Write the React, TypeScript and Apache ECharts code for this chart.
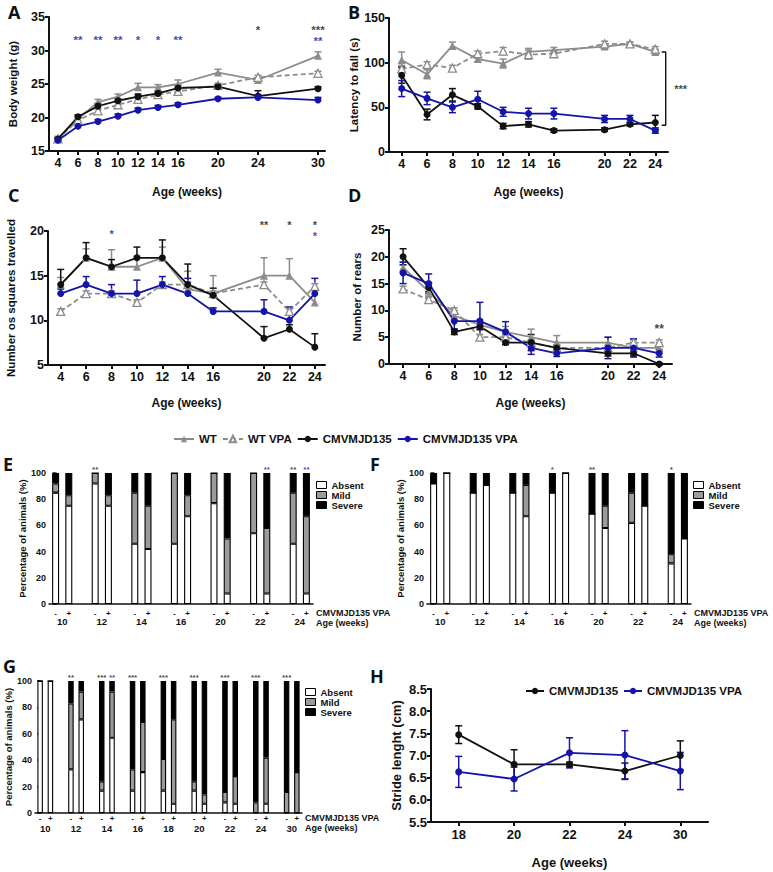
import React, { useEffect, useRef } from 'react';
import * as echarts from 'echarts';

const FONT = '"Liberation Sans", Arial, Helvetica, sans-serif';
const BLUE = '#1414a8';
const GRAY = '#8c8c8c';
const BLACK = '#111111';
const MILD = '#9b9b9b';

// ---------- Panel A : body weight ----------
const weeksA = [4, 6, 8, 10, 12, 14, 16, 20, 24, 30];
const wtA = [16.9, 19.8, 22.3, 23.1, 24.5, 24.5, 25.0, 26.7, 25.6, 29.2];
const wtVpaA = [16.8, 19.6, 21.0, 21.9, 22.7, 23.4, 23.9, 24.8, 26.0, 26.6];
const mjdA = [16.8, 20.1, 21.7, 22.5, 23.1, 23.6, 24.4, 24.6, 23.2, 24.3];
const mjdVpaA = [16.6, 18.7, 19.4, 20.2, 21.1, 21.5, 21.9, 22.8, 23.0, 22.6];
const wtErrA = [0.3, 0.4, 0.4, 0.4, 0.6, 0.4, 0.6, 0.5, 0.3, 0.6];
const wtVpaErrA = [0.2, 0.3, 0.3, 0.3, 0.3, 0.3, 0.3, 0.3, 0.3, 0.3];
const mjdErrA = [0.2, 0.3, 0.4, 0.3, 0.4, 0.3, 0.4, 0.3, 0.8, 0.3];
const mjdVpaErrA = [0.2, 0.2, 0.3, 0.3, 0.3, 0.3, 0.3, 0.2, 0.3, 0.4];
const starsA = [
  { x: 6, y: 31.5, t: '**', c: 'b' }, { x: 8, y: 31.5, t: '**', c: 'b' },
  { x: 10, y: 31.5, t: '**', c: 'b' }, { x: 12, y: 31.5, t: '*', c: 'b' },
  { x: 14, y: 31.5, t: '*', c: 'b' }, { x: 16, y: 31.5, t: '**', c: 'b' },
  { x: 24, y: 33.0, t: '*', c: 'k' }, { x: 30, y: 33.0, t: '***', c: 'k' },
  { x: 30, y: 31.4, t: '**', c: 'b' },
];

// ---------- Panel B : rotarod ----------
const weeksB = [4, 6, 8, 10, 12, 14, 16, 20, 22, 24];
const wtB = [103, 87, 119, 104, 99, 112, 114, 118, 121, 112];
const wtVpaB = [93, 98, 94, 110, 113, 109, 110, 121, 121, 115];
const mjdB = [86, 42, 64, 51, 29, 31, 24, 25, 31, 33];
const mjdVpaB = [71, 60, 50, 59, 45, 43, 43, 37, 37, 24];
const wtErrB = [9, 5, 4, 3, 5, 4, 3, 2, 2, 3];
const wtVpaErrB = [4, 3, 3, 3, 4, 5, 3, 3, 2, 3];
const mjdErrB = [9, 6, 7, 3, 3, 3, 2, 2, 2, 8];
const mjdVpaErrB = [9, 7, 6, 9, 5, 6, 6, 4, 4, 3];
const bracketB = [[24.5, 112], [24.82, 112], [24.82, 30], [24.5, 30]];
const starsB = [{ x: 26.0, y: 70, t: '***', c: 'k' }];

// ---------- Panel C : open field squares ----------
const weeksC = [4, 6, 8, 10, 12, 14, 16, 20, 22, 24];
const wtC = [14, 17, 16, 16, 17, 13.5, 13, 15, 15, 12];
const wtVpaC = [11, 13, 13, 12, 14, 14, 13, 14, 11, 13.8];
const mjdC = [14, 17, 16, 17, 17, 14, 12.8, 8, 9, 7];
const mjdVpaC = [13, 14, 13, 13, 14, 13, 11, 11, 10, 13];
const wtErrC = [0.8, 1.0, 1.9, 1.2, 1.2, 2.0, 2.0, 2.0, 1.9, 1.5];
const wtVpaErrC = [0.3, 0.3, 0.3, 0.3, 0.3, 0.3, 0.3, 0.3, 0.4, 0.3];
const mjdErrC = [1.7, 1.7, 0.8, 1.2, 2.0, 2.3, 0.8, 1.3, 0.5, 1.5];
const mjdVpaErrC = [0.5, 0.9, 1.0, 1.5, 0.9, 1.7, 0.4, 1.3, 1.5, 1.7];
const starsC = [
  { x: 8, y: 19.66, t: '*', c: 'b' }, { x: 20, y: 20.7, t: '**', c: 'k' },
  { x: 22, y: 20.7, t: '*', c: 'k' }, { x: 24, y: 20.7, t: '*', c: 'k' },
  { x: 24, y: 19.45, t: '*', c: 'b' },
];

// ---------- Panel D : rears ----------
const weeksD = [4, 6, 8, 10, 12, 14, 16, 20, 22, 24];
const wtD = [18, 13.5, 9, 7.3, 6, 5, 4, 4, 3, 3];
const wtVpaD = [14, 12, 10, 5, 5, 4, 3, 3, 4, 4];
const mjdD = [20, 14.3, 6, 7, 4, 4, 3, 2, 2, 0];
const mjdVpaD = [17, 15, 8, 8, 6, 3, 2, 3, 3, 2];
const wtErrD = [1, 1, 1, 1, 1, 1.5, 1.3, 1, 1, 1];
const wtVpaErrD = [0.5, 0.5, 0.5, 0.5, 0.5, 0.5, 0.5, 0.5, 0.5, 0.5];
const mjdErrD = [1.5, 0.8, 0.5, 0.5, 0.4, 1.5, 0.5, 0.5, 0.5, 0.2];
const mjdVpaErrD = [2, 1.8, 1.5, 3.5, 1.9, 1.2, 0.6, 2, 1.7, 0.7];
const starsD = [{ x: 24, y: 6.5, t: '**', c: 'k' }];

// ---------- Panels E, F, G : stacked percentages (order: age-, age+) ----------
const agesE = ['10', '12', '14', '16', '20', '22', '24'];
const absentE = [85, 75, 92, 75, 46, 42, 46, 67, 77, 8, 54, 8, 46, 8];
const mildE = [7, 8, 8, 8, 39, 33, 54, 16, 23, 42, 46, 50, 39, 59];
const severeE = [8, 17, 0, 17, 15, 25, 0, 17, 0, 50, 0, 42, 15, 33];
const starsE = [
  { i: 2, t: '**', c: 'k' }, { i: 11, t: '**', c: 'b' },
  { i: 12, t: '**', c: 'k' }, { i: 13, t: '**', c: 'b' },
];

const agesF = ['10', '12', '14', '16', '20', '22', '24'];
const absentF = [92, 100, 85, 91, 85, 67, 85, 100, 69, 58, 62, 75, 31, 50];
const mildF = [0, 0, 0, 0, 0, 24, 0, 0, 0, 17, 23, 0, 7, 0];
const severeF = [8, 0, 15, 9, 15, 9, 15, 0, 31, 25, 15, 25, 62, 50];
const starsF = [{ i: 6, t: '*', c: 'b' }, { i: 8, t: '**', c: 'k' }, { i: 12, t: '*', c: 'k' }];

const agesG = ['10', '12', '14', '16', '18', '20', '22', '24', '30'];
const absentG = [100, 100, 33, 71, 17, 57, 17, 31, 17, 7, 17, 7, 8, 7, 0, 7, 0, 0];
const mildG = [0, 0, 50, 21, 7, 35, 16, 38, 24, 64, 7, 7, 8, 21, 8, 35, 16, 31];
const severeG = [0, 0, 17, 8, 76, 8, 67, 31, 59, 29, 76, 86, 84, 72, 92, 58, 84, 69];
const starsG = [
  { i: 2, t: '**', c: 'k' }, { i: 4, t: '***', c: 'k' }, { i: 5, t: '**', c: 'b' },
  { i: 6, t: '***', c: 'k' }, { i: 8, t: '***', c: 'k' }, { i: 10, t: '***', c: 'k' },
  { i: 12, t: '***', c: 'k' }, { i: 14, t: '***', c: 'k' }, { i: 16, t: '***', c: 'k' },
];
const signs = ['-', '+'];
const barAxisTitle = 'CMVMJD135 VPA\nAge (weeks)';

// ---------- Panel H : stride length ----------
const weeksH = ['18', '20', '22', '24', '30'];
const mjdH = [7.47, 6.8, 6.8, 6.65, 7.0];
const mjdErrH = [0.2, 0.33, 0.05, 0.18, 0.33];
const mjdVpaH = [6.63, 6.47, 7.06, 7.01, 6.65];
const mjdVpaErrH = [0.35, 0.27, 0.34, 0.55, 0.42];

const legendNames = ['WT', 'WT VPA', 'CMVMJD135', 'CMVMJD135 VPA'];
const severityNames = ['Absent', 'Mild', 'Severe'];

// ---------- helpers ----------
const STYLE: Record<string, any> = {
  'WT': { color: GRAY, fill: GRAY, symbol: 'triangle', dashed: false },
  'WT VPA': { color: GRAY, fill: '#ffffff', symbol: 'triangle', dashed: true },
  'CMVMJD135': { color: BLACK, fill: BLACK, symbol: 'circle', dashed: false },
  'CMVMJD135 VPA': { color: BLUE, fill: BLUE, symbol: 'circle', dashed: false },
};

const txt = (size: number, extra: any = {}) => ({
  color: BLACK, fontFamily: FONT, fontWeight: 'bold', fontSize: size, ...extra,
});

const errRender = (color: string, mode: string) => (params: any, api: any) => {
  const x = api.value(0);
  const y = api.value(1);
  const e = api.value(2);
  const p0 = api.coord([x, y]);
  const pt = api.coord([x, y + e]);
  const pb = mode === 'both' ? api.coord([x, y - e]) : p0;
  const cw = 3.5;
  const style = { stroke: color, lineWidth: 1.5, fill: null };
  const children: any[] = [
    { type: 'line', shape: { x1: pt[0], y1: pt[1], x2: pb[0], y2: pb[1] }, style },
    { type: 'line', shape: { x1: pt[0] - cw, y1: pt[1], x2: pt[0] + cw, y2: pt[1] }, style },
  ];
  if (mode === 'both') {
    children.push({ type: 'line', shape: { x1: pb[0] - cw, y1: pb[1], x2: pb[0] + cw, y2: pb[1] }, style });
  }
  return { type: 'group', children };
};

function lineSet(name: string, xi: number, yi: number, xs: any[], ys: number[], errs: number[], mode: string) {
  const s = STYLE[name];
  return [
    {
      type: 'custom', xAxisIndex: xi, yAxisIndex: yi, silent: true, z: 2,
      data: xs.map((x, i) => [x, ys[i], errs[i]]),
      renderItem: errRender(s.color, mode),
    },
    {
      type: 'line', name, xAxisIndex: xi, yAxisIndex: yi, silent: true, z: 3,
      data: xs.map((x, i) => [x, ys[i]]),
      symbol: s.symbol, symbolSize: s.symbol === 'triangle' ? 8 : 7, showAllSymbol: true,
      lineStyle: { color: s.color, width: 1.8, type: s.dashed ? [5, 3] : 'solid' },
      itemStyle: { color: s.fill, borderColor: s.color, borderWidth: s.dashed ? 1.3 : 0 },
    },
  ];
}

function starSeries(xi: number, yi: number, pts: any[], size: number) {
  return {
    type: 'scatter', xAxisIndex: xi, yAxisIndex: yi, silent: true, clip: false, symbolSize: 1, z: 5,
    itemStyle: { color: 'rgba(0,0,0,0)' },
    data: pts.map((p) => ({ name: p.t, value: [p.x, p.y], label: { color: p.c === 'b' ? BLUE : BLACK } })),
    label: { show: true, position: 'inside', formatter: '{b}', lineHeight: Math.round(size * 0.7), ...txt(size) },
  };
}

// category slots: age-, age+, gap, age-, age+, gap, ..., age-, age+
function barCats(ages: string[]) {
  const c: string[] = [];
  ages.forEach((a, g) => {
    c.push(a + '-');
    c.push(a + '+');
    if (g < ages.length - 1) c.push(a + '_');
  });
  return c;
}
const slotOf = (i: number) => 3 * Math.floor(i / 2) + (i % 2);

function stackSet(xi: number, yi: number, key: string, cats: string[], a: number[], m: number[], s: number[], bw: number) {
  const mk = (name: string, vals: number[], color: string) => ({
    type: 'bar', name, xAxisIndex: xi, yAxisIndex: yi, stack: key, barWidth: bw, silent: true,
    data: cats.map((_, k) => (k % 3 === 2 ? null : vals[2 * Math.floor(k / 3) + (k % 3)])),
    itemStyle: { color, borderColor: '#000', borderWidth: 1.1 },
  });
  return [mk('Absent', a, '#ffffff'), mk('Mild', m, MILD), mk('Severe', s, '#000000')];
}

function lineXAxis(grid: number, min: number, max: number, ticks: number[], gap: number) {
  return {
    type: 'value', gridIndex: grid, min, max,
    name: 'Age (weeks)', nameLocation: 'middle', nameGap: gap, nameTextStyle: txt(12),
    axisLine: { show: true, onZero: false, lineStyle: { color: BLACK, width: 2 } },
    axisTick: { show: true, customValues: ticks, length: 4, lineStyle: { color: BLACK, width: 2 } },
    axisLabel: { customValues: ticks, margin: 5, ...txt(12.5) },
    splitLine: { show: false },
  };
}

function lineYAxis(grid: number, min: number, max: number, interval: number, name: string, gap: number, fs = 12.5, fmt?: any) {
  const lab: any = { margin: 4, ...txt(fs) };
  if (fmt) lab.formatter = fmt;
  return {
    type: 'value', gridIndex: grid, min, max, interval,
    name, nameLocation: 'middle', nameGap: gap, nameRotate: 90, nameTextStyle: txt(11.5),
    axisLine: { show: true, onZero: false, lineStyle: { color: BLACK, width: 2 } },
    axisTick: { show: true, length: 4, lineStyle: { color: BLACK, width: 2 } },
    axisLabel: lab,
    splitLine: { show: false },
  };
}

function barXAxes(grid: number, cats: string[], ages: string[], signPad: number, ageOffset: number, agePad: number) {
  const agePos = ages.map((_, g) => 3 * g + 0.5);
  return [
    {
      type: 'category', gridIndex: grid, data: cats, boundaryGap: true,
      name: barAxisTitle, nameLocation: 'end', nameGap: 3,
      nameTextStyle: txt(9, { verticalAlign: 'top', align: 'left', lineHeight: 10, padding: [signPad, 0, 0, 0] }),
      axisLine: { show: true, onZero: false, lineStyle: { color: BLACK, width: 1.5 } },
      axisTick: { show: false },
      axisLabel: {
        interval: 0, margin: signPad + 1, ...txt(8),
        formatter: (v: string) => (v.endsWith('-') ? signs[0] : v.endsWith('+') ? signs[1] : ''),
      },
      splitLine: { show: false },
    },
    {
      type: 'value', gridIndex: grid, min: -0.5, max: cats.length - 0.5, position: 'bottom', offset: ageOffset,
      axisLine: { show: false }, axisTick: { show: false },
      axisLabel: {
        customValues: agePos, margin: agePad, ...txt(9.5),
        formatter: (v: number) => {
          const i = agePos.findIndex((p) => Math.abs(p - v) < 1e-6);
          return i < 0 ? '' : ages[i];
        },
      },
      splitLine: { show: false },
    },
  ];
}

function barYAxis(grid: number, gap: number) {
  return {
    type: 'value', gridIndex: grid, min: 0, max: 100, interval: 20,
    name: 'Percentage of animals (%)', nameLocation: 'middle', nameGap: gap, nameRotate: 90,
    nameTextStyle: txt(9.5),
    axisLine: { show: true, lineStyle: { color: BLACK, width: 1.5 } },
    axisTick: { show: true, length: 3, lineStyle: { color: BLACK, width: 1.5 } },
    axisLabel: { margin: 3, ...txt(9) },
    splitLine: { show: false },
  };
}

function sevLegend(left: number, top: number) {
  return {
    data: severityNames, orient: 'vertical', left, top, icon: 'rect', padding: 0,
    itemWidth: 10, itemHeight: 7, itemGap: 0, selectedMode: false,
    itemStyle: { borderColor: '#000', borderWidth: 1 },
    textStyle: txt(9.5),
  };
}

function buildOption() {
  const catsE = barCats(agesE);
  const catsF = barCats(agesF);
  const catsG = barCats(agesG);
  const grids = [
    { left: 49, top: 17, width: 276, height: 134 },
    { left: 389, top: 18, width: 279, height: 134 },
    { left: 48, top: 231, width: 277, height: 134 },
    { left: 389, top: 230, width: 283, height: 134 },
    { left: 49, top: 473, width: 264, height: 131 },
    { left: 427, top: 473, width: 264, height: 131 },
    { left: 35, top: 681, width: 267, height: 132 },
    { left: 431, top: 689, width: 277, height: 133 },
  ].map((g) => ({ ...g, containLabel: false, outerBoundsMode: 'none' }));

  const xAxis: any[] = [
    lineXAxis(0, 3.1, 30.7, weeksA, 35),
    lineXAxis(1, 3, 25, weeksB, 34),
    lineXAxis(2, 3, 24.8, weeksC, 32),
    lineXAxis(3, 2.9, 25, weeksD, 33),
    ...barXAxes(4, catsE, agesE, 4, 9, 3),
    ...barXAxes(5, catsF, agesF, 4, 9, 3),
    ...barXAxes(6, catsG, agesG, 0, 9, 1),
    {
      type: 'category', gridIndex: 7, data: weeksH, boundaryGap: true,
      name: 'Age (weeks)', nameLocation: 'middle', nameGap: 34, nameTextStyle: txt(13),
      axisLine: { show: true, lineStyle: { color: BLACK, width: 2 } },
      axisTick: { show: true, alignWithLabel: true, interval: 0, length: 4, lineStyle: { color: BLACK, width: 2 } },
      axisLabel: { margin: 6, ...txt(13) },
      splitLine: { show: false },
    },
  ];
  const yAxis: any[] = [
    lineYAxis(0, 15, 35, 5, 'Body weight (g)', 30),
    lineYAxis(1, 0, 150, 50, 'Latency to fall (s)', 26),
    lineYAxis(2, 5, 20, 5, 'Number os squares travelled', 31),
    lineYAxis(3, 0, 25, 5, 'Number of rears', 26),
    barYAxis(4, 19),
    barYAxis(5, 21),
    barYAxis(6, 17),
    lineYAxis(7, 5.5, 8.5, 0.5, 'Stride lenght (cm)', 28, 13, (v: number) => v.toFixed(1)),
  ];
  yAxis[7].nameTextStyle = txt(13);

  const series: any[] = [
    // A
    ...lineSet('WT', 0, 0, weeksA, wtA, wtErrA, 'up'),
    ...lineSet('WT VPA', 0, 0, weeksA, wtVpaA, wtVpaErrA, 'up'),
    ...lineSet('CMVMJD135', 0, 0, weeksA, mjdA, mjdErrA, 'up'),
    ...lineSet('CMVMJD135 VPA', 0, 0, weeksA, mjdVpaA, mjdVpaErrA, 'up'),
    starSeries(0, 0, starsA, 11.5),
    // B
    ...lineSet('WT', 1, 1, weeksB, wtB, wtErrB, 'both'),
    ...lineSet('WT VPA', 1, 1, weeksB, wtVpaB, wtVpaErrB, 'both'),
    ...lineSet('CMVMJD135', 1, 1, weeksB, mjdB, mjdErrB, 'both'),
    ...lineSet('CMVMJD135 VPA', 1, 1, weeksB, mjdVpaB, mjdVpaErrB, 'both'),
    {
      type: 'line', xAxisIndex: 1, yAxisIndex: 1, silent: true, symbol: 'none', clip: false,
      data: bracketB, lineStyle: { color: BLACK, width: 1.4 },
    },
    starSeries(1, 1, starsB, 11),
    // C
    ...lineSet('WT', 2, 2, weeksC, wtC, wtErrC, 'up'),
    ...lineSet('WT VPA', 2, 2, weeksC, wtVpaC, wtVpaErrC, 'up'),
    ...lineSet('CMVMJD135', 2, 2, weeksC, mjdC, mjdErrC, 'up'),
    ...lineSet('CMVMJD135 VPA', 2, 2, weeksC, mjdVpaC, mjdVpaErrC, 'up'),
    starSeries(2, 2, starsC, 11),
    // D
    ...lineSet('WT', 3, 3, weeksD, wtD, wtErrD, 'both'),
    ...lineSet('WT VPA', 3, 3, weeksD, wtVpaD, wtVpaErrD, 'both'),
    ...lineSet('CMVMJD135', 3, 3, weeksD, mjdD, mjdErrD, 'both'),
    ...lineSet('CMVMJD135 VPA', 3, 3, weeksD, mjdVpaD, mjdVpaErrD, 'both'),
    starSeries(3, 3, starsD, 12),
    // E
    ...stackSet(4, 4, 'E', catsE, absentE, mildE, severeE, 7),
    starSeries(4, 4, starsE.map((s) => ({ x: catsE[slotOf(s.i)], y: 102.3, t: s.t, c: s.c })), 8),
    // F
    ...stackSet(6, 5, 'F', catsF, absentF, mildF, severeF, 7),
    starSeries(6, 5, starsF.map((s) => ({ x: catsF[slotOf(s.i)], y: 102.3, t: s.t, c: s.c })), 8),
    // G
    ...stackSet(8, 6, 'G', catsG, absentG, mildG, severeG, 5.5),
    starSeries(8, 6, starsG.map((s) => ({ x: catsG[slotOf(s.i)], y: 102.3, t: s.t, c: s.c })), 8),
    // H
    ...lineSet('CMVMJD135', 10, 7, weeksH, mjdH, mjdErrH, 'both'),
    ...lineSet('CMVMJD135 VPA', 10, 7, weeksH, mjdVpaH, mjdVpaErrH, 'both'),
  ];

  const letters: [string, number, number][] = [
    ['A', 8, 3], ['B', 348, 3], ['C', 8, 186], ['D', 348, 186],
    ['E', 3, 455], ['F', 370, 455], ['G', 3, 657], ['H', 370, 667],
  ];

  return {
    animation: false,
    backgroundColor: '#ffffff',
    grid: grids,
    xAxis,
    yAxis,
    series,
    legend: [
      {
        data: legendNames, left: 173, top: 433, width: 500, padding: 0, itemWidth: 20, itemHeight: 8, itemGap: 5,
        selectedMode: false, textStyle: txt(11.5),
      },
      sevLegend(316, 480),
      sevLegend(693, 480),
      sevLegend(305, 687),
      {
        data: ['CMVMJD135', 'CMVMJD135 VPA'], left: 525, top: 685, width: 260, padding: 0, itemWidth: 18, itemHeight: 8,
        itemGap: 5, selectedMode: false, textStyle: txt(11.5),
      },
    ],
    graphic: letters.map(([t, x, y]) => ({
      type: 'text', left: x, top: y, silent: true,
      style: { text: t, fontSize: 18, fontWeight: 'bold', fontFamily: '"Open Sans", "Liberation Sans", sans-serif', fill: BLACK },
    })),
  };
}

export default function App() {
  const ref = useRef<HTMLDivElement>(null);
  useEffect(() => {
    if (!ref.current) return;
    const chart = echarts.init(ref.current, null, { renderer: 'svg' });
    chart.setOption(buildOption() as any);
    return () => chart.dispose();
  }, []);
  return (
    <div
      ref={ref}
      style={{ position: 'absolute', left: 0, top: 0, width: 773, height: 872, background: '#fff' }}
    />
  );
}
